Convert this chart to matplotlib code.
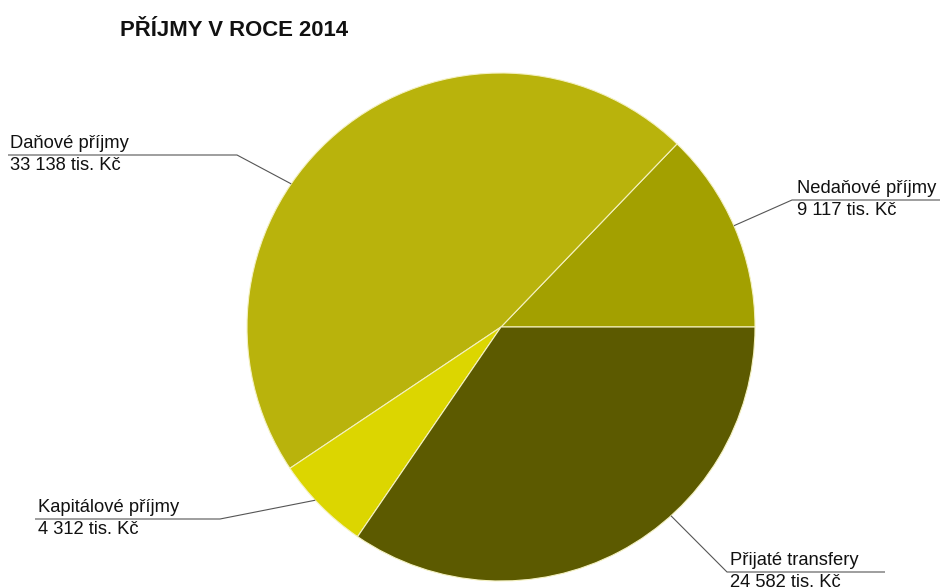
import numpy as np
import matplotlib
matplotlib.use("Agg")
import matplotlib.pyplot as plt

plt.rcParams['font.family'] = ['Liberation Sans', 'DejaVu Sans']

categories = ["Nedaňové příjmy", "Daňové příjmy", "Kapitálové příjmy", "Přijaté transfery"]
values = [9117, 33138, 4312, 24582]
value_labels = ["9 117 tis. Kč", "33 138 tis. Kč", "4 312 tis. Kč", "24 582 tis. Kč"]
colors = ["#a3a000", "#b9b30c", "#dcd600", "#5c5a00"]
title = "PŘÍJMY V ROCE 2014"

W, H = 940, 588
fig = plt.figure(figsize=(W / 100, H / 100), dpi=100)
ax = fig.add_axes([0, 0, 1, 1])

cx, cy, r = 501, H - 327, 254
wedges, _ = ax.pie(values, colors=colors, startangle=0, counterclock=True,
                   center=(cx, cy), radius=r, frame=True,
                   wedgeprops=dict(edgecolor="#f4f1c0", linewidth=0.8))
ax.set_xlim(0, W)
ax.set_ylim(0, H)
ax.set_aspect("equal")
ax.axis("off")

# label layout: (angle of leader on pie edge, elbow x, underline end x, underline y, text x)
layout = {
    "Nedaňové příjmy": (23.5, 792, 940, H - 200, 797),
    "Daňové příjmy": (145.7, 237, 8, H - 155, 10),
    "Kapitálové příjmy": (223.0, 220, 35, H - 519, 38),
    "Přijaté transfery": (312.0, 727, 885, H - 572, 730),
}

line_kw = dict(color="#555555", linewidth=0.8, solid_capstyle="butt")
for cat, val in zip(categories, value_labels):
    ang, ex, ux, uy, tx = layout[cat]
    a = np.deg2rad(ang)
    px, py = cx + r * np.cos(a), cy + r * np.sin(a)
    ax.plot([px, ex, ux], [py, uy, uy], **line_kw)
    ax.text(tx, uy + 3, cat, fontsize=13.2, ha="left", va="bottom", color="#111111")
    ax.text(tx, uy - 2, val, fontsize=13.2, ha="left", va="top", color="#111111")

fig.text(120 / W, 1 - 30 / H, title, fontsize=15.9, fontweight="bold",
         ha="left", va="center", color="#111111")

fig.savefig("out.png", dpi=100)
